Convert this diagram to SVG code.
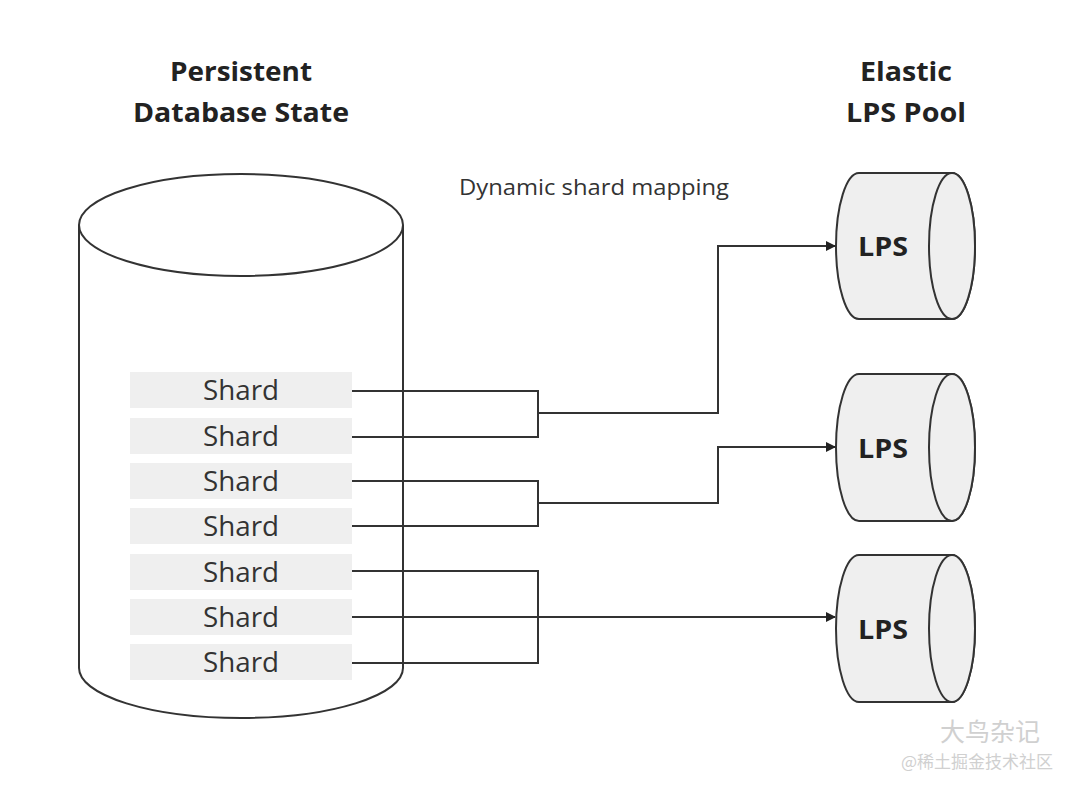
<svg xmlns="http://www.w3.org/2000/svg" width="1080" height="789" viewBox="0 0 1080 789">
<style>
.title{font-family:"Open Sans",Roboto,"Liberation Sans",sans-serif;font-weight:bold;font-size:27px;fill:#222;text-anchor:middle}
.lbl{font-family:"Open Sans",Roboto,"Liberation Sans",sans-serif;font-size:21px;fill:#333;text-anchor:middle}
.shard{font-family:"Open Sans",Roboto,"Liberation Sans",sans-serif;font-size:27px;fill:#333;text-anchor:middle}
.lps{font-family:"Open Sans",Roboto,"Liberation Sans",sans-serif;font-weight:bold;font-size:27px;fill:#222;text-anchor:middle}
.box{fill:#efefef;stroke:none}
.outline{fill:none;stroke:#333;stroke-width:2}
.cyl{fill:#efefef;stroke:#333;stroke-width:2}
.conn{fill:none;stroke:#333;stroke-width:2}
.wm{font-family:"Noto Sans CJK SC","Liberation Sans",sans-serif;fill:#d0d0d0;text-anchor:middle}
</style>
<defs>
<marker id="arr" markerWidth="10" markerHeight="10" refX="9" refY="5" orient="auto" markerUnits="userSpaceOnUse">
<path d="M0,0 L10,5 L0,10 z" fill="#222"/>
</marker>
</defs>
<rect width="1080" height="789" fill="#fff"/>

<text class="title" x="241" y="81" textLength="142" lengthAdjust="spacingAndGlyphs">Persistent</text>
<text class="title" x="241" y="122" textLength="216" lengthAdjust="spacingAndGlyphs">Database State</text>
<text class="title" x="906" y="81" textLength="92" lengthAdjust="spacingAndGlyphs">Elastic</text>
<text class="title" x="906" y="122" textLength="120" lengthAdjust="spacingAndGlyphs">LPS Pool</text>
<text class="lbl" x="594" y="195" textLength="270" lengthAdjust="spacingAndGlyphs">Dynamic shard mapping</text>

<g id="database">
<path class="outline" d="M79,225 L79,668 A162,50 0 0 0 403,668 L403,225"/>
<ellipse class="outline" cx="241" cy="225" rx="162" ry="51" fill="#fff"/>
</g>

<g id="shard1"><rect class="box" x="130" y="372" width="222" height="36"/><text class="shard" x="241" y="400" textLength="76" lengthAdjust="spacingAndGlyphs">Shard</text></g>
<g id="shard2"><rect class="box" x="130" y="418" width="222" height="36"/><text class="shard" x="241" y="446" textLength="76" lengthAdjust="spacingAndGlyphs">Shard</text></g>
<g id="shard3"><rect class="box" x="130" y="463" width="222" height="36"/><text class="shard" x="241" y="491" textLength="76" lengthAdjust="spacingAndGlyphs">Shard</text></g>
<g id="shard4"><rect class="box" x="130" y="508" width="222" height="36"/><text class="shard" x="241" y="536" textLength="76" lengthAdjust="spacingAndGlyphs">Shard</text></g>
<g id="shard5"><rect class="box" x="130" y="554" width="222" height="36"/><text class="shard" x="241" y="582" textLength="76" lengthAdjust="spacingAndGlyphs">Shard</text></g>
<g id="shard6"><rect class="box" x="130" y="599" width="222" height="36"/><text class="shard" x="241" y="627" textLength="76" lengthAdjust="spacingAndGlyphs">Shard</text></g>
<g id="shard7"><rect class="box" x="130" y="644" width="222" height="36"/><text class="shard" x="241" y="672" textLength="76" lengthAdjust="spacingAndGlyphs">Shard</text></g>

<g id="lps1">
<path class="cyl" d="M859,173 L952,173 A23,73 0 0 1 952,319 L859,319 A23,73 0 0 1 859,173 z"/>
<ellipse class="cyl" cx="952" cy="246" rx="23" ry="73"/>
<text class="lps" x="883" y="256" textLength="50" lengthAdjust="spacingAndGlyphs">LPS</text>
</g>
<g id="lps2">
<path class="cyl" d="M859,374 L952,374 A23,73.5 0 0 1 952,521 L859,521 A23,73.5 0 0 1 859,374 z"/>
<ellipse class="cyl" cx="952" cy="447.5" rx="23" ry="73.5"/>
<text class="lps" x="883" y="458" textLength="50" lengthAdjust="spacingAndGlyphs">LPS</text>
</g>
<g id="lps3">
<path class="cyl" d="M859,555 L952,555 A23,73.5 0 0 1 952,702 L859,702 A23,73.5 0 0 1 859,555 z"/>
<ellipse class="cyl" cx="952" cy="628.5" rx="23" ry="73.5"/>
<text class="lps" x="883" y="639" textLength="50" lengthAdjust="spacingAndGlyphs">LPS</text>
</g>

<g id="connectors">
<path class="conn" d="M352,391 L538,391 L538,437 L352,437"/>
<path class="conn" d="M538,413 L718,413 L718,246 L835,246" marker-end="url(#arr)"/>
<path class="conn" d="M352,481 L538,481 L538,526 L352,526"/>
<path class="conn" d="M538,503 L718,503 L718,447 L835,447" marker-end="url(#arr)"/>
<path class="conn" d="M352,571 L538,571 L538,663 L352,663"/>
<path class="conn" d="M352,617 L835,617" marker-end="url(#arr)"/>
</g>

<g id="watermark">
<text class="wm" x="990" y="741" font-size="25">大鸟杂记</text>
<text class="wm" x="977" y="768" font-size="17">@稀土掘金技术社区</text>
</g>
</svg>
